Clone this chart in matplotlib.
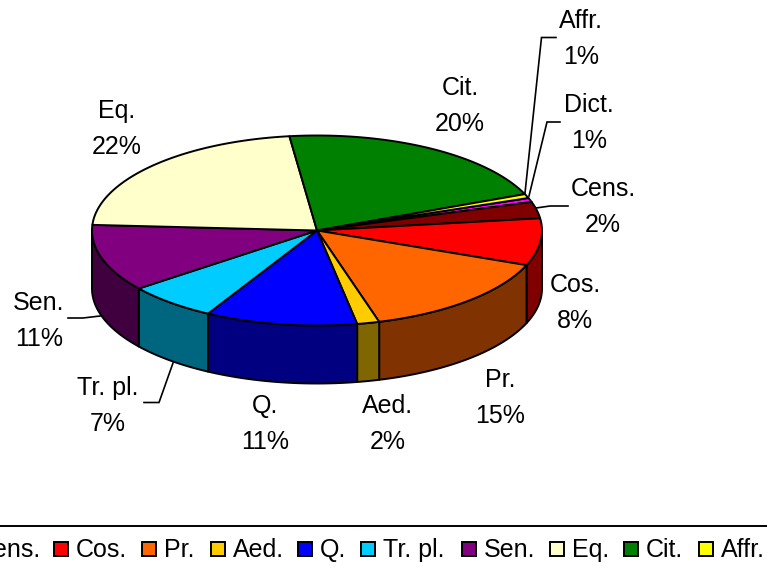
import numpy as np
import matplotlib
matplotlib.use('Agg')
import matplotlib.pyplot as plt
from matplotlib.patches import Polygon, Rectangle

plt.rcParams['font.family'] = ['Liberation Sans', 'DejaVu Sans']

# slices, clockwise starting from Dict.
names = ['Dict.', 'Cens.', 'Cos.', 'Pr.', 'Aed.', 'Q.', 'Tr. pl.', 'Sen.', 'Eq.', 'Cit.', 'Affr.']
shares = [0.7, 2.8, 8.0, 14.6, 1.6, 10.9, 6.5, 11.4, 22.1, 20.7, 0.7]
pct_labels = ['1%', '2%', '8%', '15%', '2%', '11%', '7%', '11%', '22%', '20%', '1%']
top_colors = ['#FF00FF', '#800000', '#FF0000', '#FF6600', '#FFCC00', '#0000FF',
              '#00CCFF', '#800080', '#FFFFCC', '#008000', '#FFFF00']
side_colors = ['#800080', '#400000', '#800000', '#803300', '#806600', '#000080',
               '#006680', '#400040', '#808066', '#004000', '#808000']

# label centres in pixels
label_x = [589, 603, 575, 500, 388, 265, 108, 39, 117, 460, 581]
label_y = [123, 207, 303, 398, 424, 424, 406, 321, 129, 106, 39]

# leader lines in pixels
leaders = {
    'Affr.': [(525, 193), (541.5, 37.5), (556, 37.5)],
    'Dict.': [(529, 196), (547, 122), (560, 122)],
    'Cens.': [(536, 208), (550, 206), (568, 206)],
    'Sen.': [(100, 316), (83, 318), (68, 318)],
    'Tr. pl.': [(173, 363), (159, 402.5), (144, 402.5)],
}

# legend order and pixel positions (box left edge)
legend_names = ['Cens.', 'Cos.', 'Pr.', 'Aed.', 'Q.', 'Tr. pl.', 'Sen.', 'Eq.', 'Cit.', 'Affr.']
legend_box_x = [-46, 54, 142, 211, 298, 361, 462, 550, 624, 699]

cx, cy, rx, ry, depth = 317, 230.5, 225, 95, 58
start = 70.0
FS = 18


def rim(t0, t1, dy=0):
    t = np.radians(np.linspace(t0, t1, max(int(abs(t1 - t0) * 2), 2)))
    return np.column_stack([cx + rx * np.sin(t), cy - ry * np.cos(t) + dy])


fig = plt.figure(figsize=(7.67, 5.67), dpi=100)
ax = fig.add_axes([0, 0, 1, 1])
ax.set_xlim(0, 767)
ax.set_ylim(567, 0)
ax.axis('off')

sizes = np.array(shares) / sum(shares) * 360
edges = start + np.concatenate([[0], np.cumsum(sizes)])

# side walls first, only the front half can be seen
for i in range(len(names)):
    t0, t1 = max(edges[i], 90), min(edges[i + 1], 270)
    if t1 <= t0:
        continue
    pts = np.vstack([rim(t0, t1), rim(t1, t0, depth)])
    ax.add_patch(Polygon(pts, closed=True, fc=side_colors[i], ec='black', lw=1.4, joinstyle='round'))

# top faces
for i in range(len(names)):
    pts = np.vstack([[(cx, cy)], rim(edges[i], edges[i + 1])])
    ax.add_patch(Polygon(pts, closed=True, fc=top_colors[i], ec='black', lw=1.4, joinstyle='round'))

for i, name in enumerate(names):
    ax.text(label_x[i], label_y[i], name + '\n' + pct_labels[i], ha='center', va='center',
            fontsize=FS, linespacing=1.62, color='black')

for pts in leaders.values():
    xs, ys = zip(*pts)
    ax.plot(xs, ys, color='black', lw=1.2, solid_joinstyle='miter')

# legend, wider than the picture so both ends are cut off
ax.plot([0, 767], [526, 526], color='black', lw=1.4)
for name, bx in zip(legend_names, legend_box_x):
    ax.add_patch(Rectangle((bx, 542), 14, 14, fc=top_colors[names.index(name)], ec='black', lw=1.4))
    ax.text(bx + 22, 550, name, ha='left', va='center', fontsize=FS, color='black')

fig.savefig('out.png', dpi=100)
